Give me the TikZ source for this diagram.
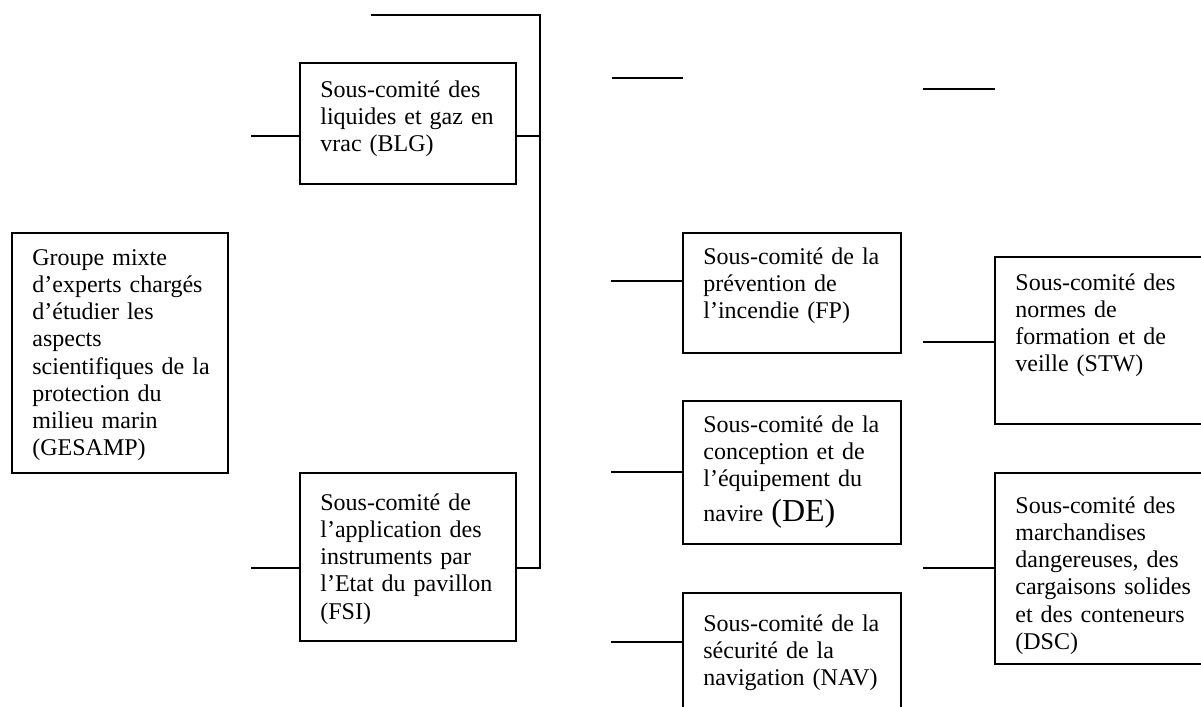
\documentclass[tikz,border=0pt]{standalone}
\usepackage{fontspec}
\setmainfont{Liberation Serif}

\tikzstyle{committee} = [rectangle, draw=black, line width=1pt, anchor=north west, inner sep=0pt, minimum width=108pt]
\tikzstyle{boxtext} = [anchor=north west, inner sep=0pt, text width=125pt, align=left, xshift=10.5pt, font=\fontsize{12pt}{13.6pt}\selectfont, execute at begin node=\strut]
\tikzstyle{link} = [line width=1pt]

\begin{document}
\begin{tikzpicture}[x=0.5pt, y=-0.5pt]

\useasboundingbox (0,0) rectangle (1201,707);
\clip (0,0) rectangle (1201,707);

% left column
\node (gesamp) [committee, minimum height=120pt, label={[boxtext, yshift=-6.9pt]north west:{Groupe mixte\\d’experts chargés\\d’étudier les\\aspects\\scientifiques de la\\protection du\\milieu marin\\(GESAMP)}}] at (11,232) {};
\node (blg) [committee, minimum height=60.5pt, label={[boxtext, yshift=-7.9pt]north west:{Sous-comité des\\liquides et gaz en\\vrac (BLG)}}] at (299,62) {};
\node (fsi) [committee, minimum height=84pt, label={[boxtext, yshift=-9.4pt]north west:{Sous-comité de\\l’application des\\instruments par\\l’Etat du pavillon\\(FSI)}}] at (299,472) {};

% middle column
\node (fp) [committee, minimum width=109pt, minimum height=60pt, label={[boxtext, yshift=-6.4pt]north west:{Sous-comité de la\\prévention de\\l’incendie (FP)}}] at (682,232) {};
\node (de) [committee, minimum width=109pt, minimum height=71.5pt, label={[boxtext, yshift=-6.4pt]north west:{Sous-comité de la\\conception et de\\l’équipement du\\[3pt]navire {\fontsize{16pt}{18pt}\selectfont (DE)}}}] at (682,400) {};
\node (nav) [committee, minimum width=109pt, minimum height=65pt, label={[boxtext, yshift=-9.9pt]north west:{Sous-comité de la\\sécurité de la\\navigation (NAV)}}] at (682,592) {};

% right column
\node (stw) [committee, minimum height=83.5pt, label={[boxtext, yshift=-7.4pt]north west:{Sous-comité des\\normes de\\formation et de\\veille (STW)}}] at (994,256) {};
\node (dsc) [committee, minimum height=95.5pt, label={[boxtext, yshift=-10.9pt]north west:{Sous-comité des\\marchandises\\dangereuses, des\\cargaisons solides\\et des conteneurs\\(DSC)}}] at (994,472) {};

% loose ends
\coordinate (topfree) at (371,15);
\coordinate (spinetop) at (540,15);
\coordinate (spinebot) at (540,568);
\coordinate (blgin) at (251,136);
\coordinate (fsiin) at (251,568);
\coordinate (fpin) at (611,281);
\coordinate (dein) at (611,472);
\coordinate (navin) at (611,642);
\coordinate (stwin) at (923,342);
\coordinate (dscin) at (923,568);
\coordinate (midl) at (612,78);
\coordinate (midr) at (683,78);
\coordinate (rightl) at (923,89);
\coordinate (rightr) at (995,89);

\draw [link] (topfree) -- (spinetop) -- (spinebot) -- (fsi.east |- spinebot);
\draw [link] (blgin -| blg.east) -- (blgin -| spinetop);
\draw [link] (blgin) -- (blgin -| blg.west);
\draw [link] (fsiin) -- (fsiin -| fsi.west);
\draw [link] (fpin) -- (fpin -| fp.west);
\draw [link] (dein) -- (dein -| de.west);
\draw [link] (navin) -- (navin -| nav.west);
\draw [link] (stwin) -- (stwin -| stw.west);
\draw [link] (dscin) -- (dscin -| dsc.west);
\draw [link] (midl) -- (midr);
\draw [link] (rightl) -- (rightr);

\end{tikzpicture}
\end{document}
